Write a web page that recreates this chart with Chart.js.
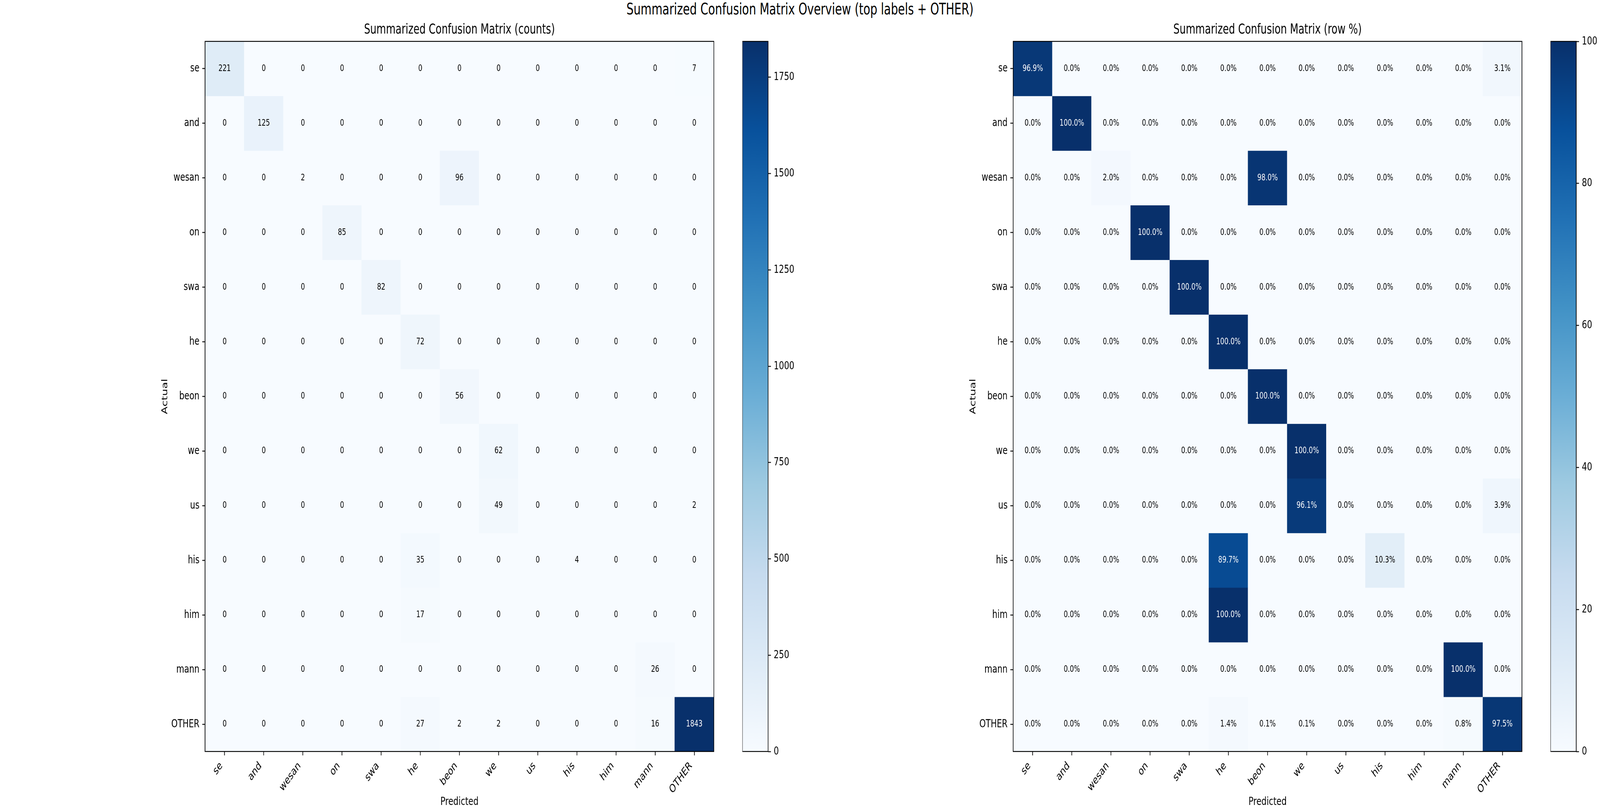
<!DOCTYPE html>
<html><head><meta charset="utf-8">
<script src="https://cdn.jsdelivr.net/npm/chart.js@4.4.0/dist/chart.umd.min.js"></script>
<style>
html,body{margin:0;padding:0;background:#fff;overflow:hidden;}
#stage{position:absolute;left:0;top:0;width:5720px;height:2080px;transform-origin:0 0;background:#fff;}
canvas{position:absolute;top:0;}
#sup{position:absolute;left:0;top:0;width:5720px;text-align:center;font:40px/46px 'DejaVu Sans';color:#000;}
</style></head><body>
<div id="stage">
<div id="sup">Summarized Confusion Matrix Overview (top labels + OTHER)</div>
<canvas id="hmCounts" width="2092" height="2080" style="left:500px;width:2092px;height:2080px"></canvas>
<canvas id="cbCounts" width="212" height="2080" style="left:2654px;width:212px;height:2080px"></canvas>
<canvas id="hmPercent" width="2092" height="2080" style="left:3389px;width:2092px;height:2080px"></canvas>
<canvas id="cbPercent" width="172" height="2080" style="left:5543px;width:172px;height:2080px"></canvas>
</div>
<script>
const labels = ['se','and','wesan','on','swa','he','beon','we','us','his','him','mann','OTHER'];
const counts = [
  [221,0,0,0,0,0,0,0,0,0,0,0,7],
  [0,125,0,0,0,0,0,0,0,0,0,0,0],
  [0,0,2,0,0,0,96,0,0,0,0,0,0],
  [0,0,0,85,0,0,0,0,0,0,0,0,0],
  [0,0,0,0,82,0,0,0,0,0,0,0,0],
  [0,0,0,0,0,72,0,0,0,0,0,0,0],
  [0,0,0,0,0,0,56,0,0,0,0,0,0],
  [0,0,0,0,0,0,0,62,0,0,0,0,0],
  [0,0,0,0,0,0,0,49,0,0,0,0,2],
  [0,0,0,0,0,35,0,0,0,4,0,0,0],
  [0,0,0,0,0,17,0,0,0,0,0,0,0],
  [0,0,0,0,0,0,0,0,0,0,0,26,0],
  [0,0,0,0,0,27,2,2,0,0,0,16,1843]
];
const rowPercent = [
  [96.9,0,0,0,0,0,0,0,0,0,0,0,3.1],
  [0,100,0,0,0,0,0,0,0,0,0,0,0],
  [0,0,2.0,0,0,0,98.0,0,0,0,0,0,0],
  [0,0,0,100,0,0,0,0,0,0,0,0,0],
  [0,0,0,0,100,0,0,0,0,0,0,0,0],
  [0,0,0,0,0,100,0,0,0,0,0,0,0],
  [0,0,0,0,0,0,100,0,0,0,0,0,0],
  [0,0,0,0,0,0,0,100,0,0,0,0,0],
  [0,0,0,0,0,0,0,96.1,0,0,0,0,3.9],
  [0,0,0,0,0,89.7,0,0,0,10.3,0,0,0],
  [0,0,0,0,0,100,0,0,0,0,0,0,0],
  [0,0,0,0,0,0,0,0,0,0,0,100,0],
  [0,0,0,0,0,1.4,0.1,0.1,0,0,0,0.8,97.5]
];
const countMax = 1843;
const percentMax = 100;
const countTicks = [0,250,500,750,1000,1250,1500,1750];
const percentTicks = [0,20,40,60,80,100];

// map the 5720x2080 design onto whatever viewport the browser really gives
const SX = (window.innerWidth / 5720) || 1;
const SY = (window.innerHeight / 2080) || 1;
document.getElementById('stage').style.transform = 'scale(' + SX + ',' + SY + ')';
const DPR = Math.max(1, Math.max(SX, SY) * (window.devicePixelRatio || 1));

const BLUES = ['#f7fbff','#deebf7','#c6dbef','#9ecae1','#6baed6','#4292c6','#2171b5','#08519c','#08306b'];
function hex2rgb(h){return [parseInt(h.slice(1,3),16),parseInt(h.slice(3,5),16),parseInt(h.slice(5,7),16)];}
const BL = BLUES.map(hex2rgb);
function blues(t){
  t = Math.max(0, Math.min(1, t));
  const p = t*8; const i = Math.min(7, Math.floor(p)); const f = p - i;
  const a = BL[i], b = BL[i+1];
  return 'rgb(' + a.map((v,k)=>Math.round(v + (b[k]-v)*f)).join(',') + ')';
}

Chart.defaults.font.family = "'DejaVu Sans'";
Chart.defaults.color = '#000';

const TICK = {drawOnChartArea:false, offset:false, tickLength:10, tickWidth:2.3, tickColor:'#000'};

function cellPlugin(matrix, vmax, fmt){
  return {
    id:'cells',
    afterDatasetsDraw(chart){
      const ctx = chart.ctx;
      ctx.save();
      ctx.font = "23px 'DejaVu Sans'";
      ctx.textAlign = 'center'; ctx.textBaseline = 'middle';
      matrix.forEach((row, r) => {
        const meta = chart.getDatasetMeta(r);
        meta.data.forEach((bar, c) => {
          const v = row[c];
          ctx.fillStyle = v > vmax/2 ? '#fff' : '#000';
          ctx.fillText(fmt(v), bar.x, (bar.y + bar.base)/2);
        });
      });
      const a = chart.chartArea;
      ctx.strokeStyle = '#000'; ctx.lineWidth = 2.3;
      ctx.strokeRect(a.left, a.top, a.right - a.left, a.bottom - a.top);
      ctx.restore();
    }
  };
}
const framePlugin = {
  id:'frame',
  afterDatasetsDraw(chart){
    const ctx = chart.ctx, a = chart.chartArea;
    ctx.save(); ctx.strokeStyle = '#000'; ctx.lineWidth = 2.3;
    ctx.strokeRect(a.left, a.top, a.right - a.left, a.bottom - a.top);
    ctx.restore();
  }
};

function heatmap(id, matrix, vmax, fmt, title){
  new Chart(document.getElementById(id), {
    type:'bar',
    data:{
      labels: labels,
      datasets: matrix.map((row, r) => ({
        data: row.map(() => [r - 0.5, r + 0.5]),
        backgroundColor: row.map(v => blues(v / vmax)),
        borderWidth: 0,
        grouped: false,
        categoryPercentage: 1,
        barPercentage: 1
      }))
    },
    options:{
      responsive:false, animation:false, devicePixelRatio:DPR,
      layout:{padding:{left:0, right:40, top:0, bottom:0}},
      plugins:{
        legend:{display:false}, tooltip:{enabled:false},
        title:{display:true, text:title, fullSize:false, color:'#000',
               font:{size:35, lineHeight:1.2, weight:'normal'}, padding:{top:56, bottom:8}}
      },
      scales:{
        x:{type:'category', offset:true, grid:TICK, border:{display:false},
           ticks:{minRotation:45, maxRotation:45, autoSkip:false, padding:10, labelOffset:-12, font:{size:29}, color:'#000'},
           title:{display:true, text:'Predicted', font:{size:29}, color:'#000', padding:{top:0, bottom:8}},
           afterFit: s => { s.height = 155; }},
        y:{type:'linear', min:-0.5, max:12.5, reverse:true, grid:TICK, border:{display:false},
           afterBuildTicks: s => { s.ticks = labels.map((_, i) => ({value:i})); },
           ticks:{callback: v => labels[v], autoSkip:false, padding:10, font:{size:29}, color:'#000'},
           title:{display:true, text:'Actual', font:{size:29}, color:'#000', padding:{top:73, bottom:0}},
           afterFit: s => { s.width = 233; }}
      }
    },
    plugins:[cellPlugin(matrix, vmax, fmt)]
  });
}

function colorbar(id, vmax, ticks, axisW){
  new Chart(document.getElementById(id), {
    type:'bar',
    data:{labels:[''], datasets:[{
      data:[[0, vmax]],
      backgroundColor: (c) => {
        const ch = c.chart, y = ch.scales.y;
        if (!y) return BLUES[0];
        const p0 = y.getPixelForValue(0), p1 = y.getPixelForValue(vmax);
        if (!isFinite(p0) || !isFinite(p1) || p0 === p1) return BLUES[0];
        const g = ch.ctx.createLinearGradient(0, p0, 0, p1);
        BLUES.forEach((col, i) => g.addColorStop(i/8, col));
        return g;
      },
      borderWidth:0, categoryPercentage:1, barPercentage:1
    }]},
    options:{
      responsive:false, animation:false, devicePixelRatio:DPR,
      layout:{padding:{top:106, bottom:155, left:0, right:0}},
      plugins:{legend:{display:false}, tooltip:{enabled:false}},
      scales:{
        x:{display:false},
        y:{position:'right', min:0, max:vmax, grid:TICK, border:{display:false},
           afterBuildTicks: s => { s.ticks = ticks.map(v => ({value:v})); },
           ticks:{callback: v => String(v), padding:10, font:{size:29}, color:'#000'},
           afterFit: s => { s.width = axisW; }}
      }
    },
    plugins:[framePlugin]
  });
}

heatmap('hmCounts', counts, countMax, v => String(v), 'Summarized Confusion Matrix (counts)');
colorbar('cbCounts', countMax, countTicks, 120);
heatmap('hmPercent', rowPercent, percentMax, v => v.toFixed(1) + '%', 'Summarized Confusion Matrix (row %)');
colorbar('cbPercent', percentMax, percentTicks, 80);
</script>
</body></html>
